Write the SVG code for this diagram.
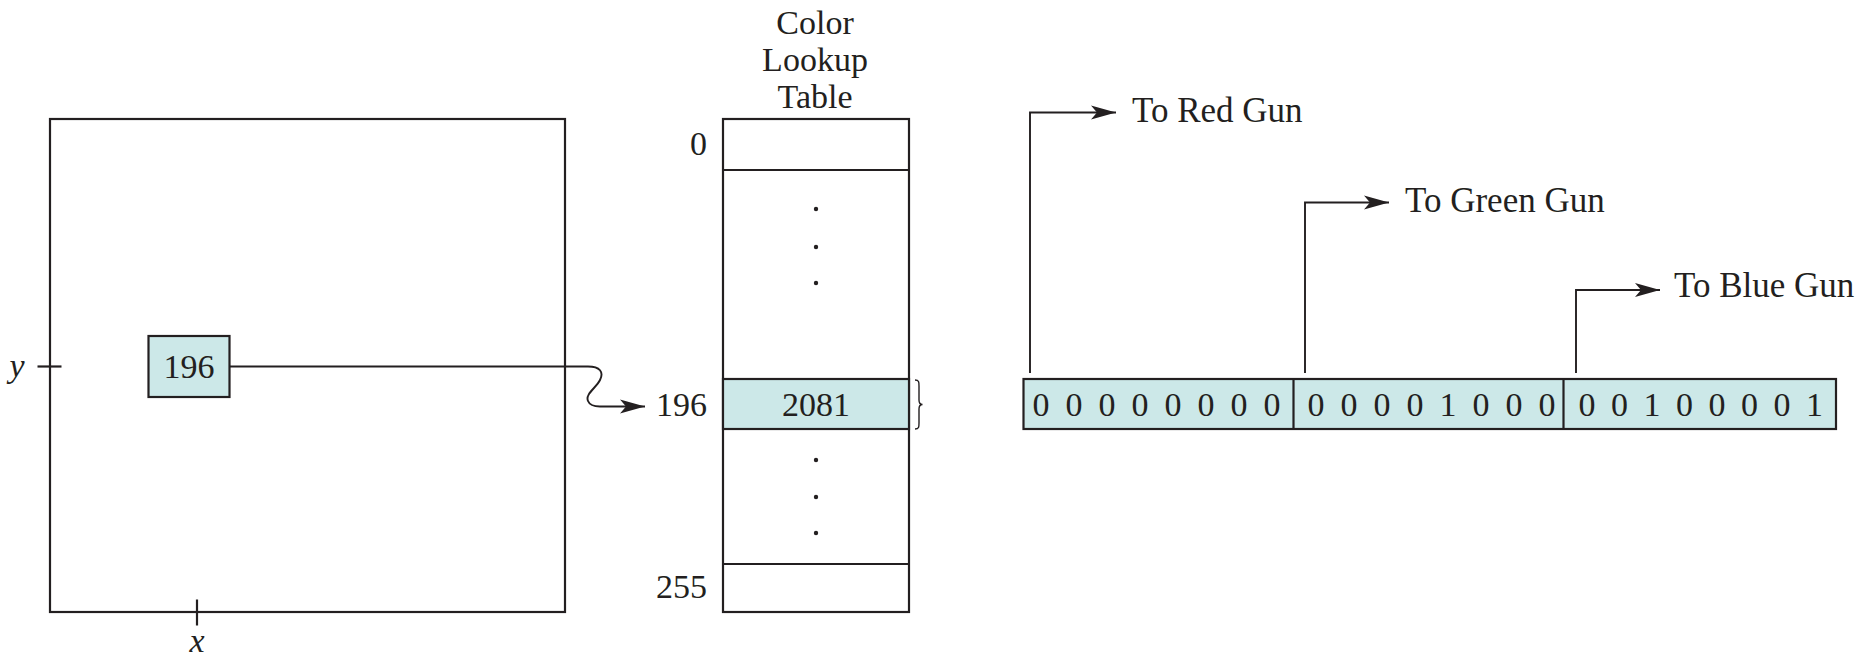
<svg xmlns="http://www.w3.org/2000/svg" width="1862" height="656" viewBox="0 0 1862 656">
<style>
.ln{fill:none;stroke:#231f20;stroke-width:2.2}
.cn{fill:none;stroke:#231f20;stroke-width:1.9}
.hl{fill:#cce8e8;stroke:#231f20;stroke-width:2.2}
.t{font-family:"Liberation Serif","Times New Roman",serif;font-size:34px;fill:#231f20}
.g{font-size:35px}
.it{font-style:italic}
.m{text-anchor:middle}
.e{text-anchor:end}
.dot{fill:#231f20}
</style>
<defs>
<marker id="ah" markerUnits="userSpaceOnUse" markerWidth="26" markerHeight="18" refX="25" refY="9" orient="auto">
<path d="M0,2 L25,9 L0,16 L6,9 z" fill="#231f20"/>
</marker>
</defs>
<rect width="1862" height="656" fill="#ffffff"/>

<g id="frame-buffer">
<rect class="ln" x="50" y="119" width="515" height="493"/>
<line class="ln" x1="37.5" y1="366.5" x2="61.5" y2="366.5"/>
<line class="ln" x1="197" y1="599.5" x2="197" y2="625.5"/>
<text class="t it m" x="17" y="377">y</text>
<text class="t it m" x="197" y="652">x</text>
</g>

<g id="pixel-196">
<rect class="hl" x="148.5" y="336" width="81" height="61"/>
<text class="t m" x="189" y="378">196</text>
</g>

<g id="color-lookup-table">
<text class="t m" x="815" y="34">Color</text>
<text class="t m" x="815" y="71">Lookup</text>
<text class="t m" x="815" y="108">Table</text>
<rect class="ln" x="723" y="119" width="186" height="493"/>
<line class="ln" x1="723" y1="170" x2="909" y2="170"/>
<rect class="hl" x="723" y="379" width="186" height="50"/>
<line class="ln" x1="723" y1="564" x2="909" y2="564"/>
<text class="t m" x="816" y="416">2081</text>
<circle class="dot" cx="816" cy="209" r="2.2"/>
<circle class="dot" cx="816" cy="247" r="2.2"/>
<circle class="dot" cx="816" cy="283" r="2.2"/>
<circle class="dot" cx="816" cy="460" r="2.2"/>
<circle class="dot" cx="816" cy="497" r="2.2"/>
<circle class="dot" cx="816" cy="533" r="2.2"/>
<text class="t e" x="707" y="155">0</text>
<text class="t e" x="707" y="416">196</text>
<text class="t e" x="707" y="598">255</text>
<path d="M915,380 C919,380 919,382 919,386 V400 C919,403 920,404.5 922.5,404.5 C920,404.5 919,406 919,409 V423 C919,427 919,429 915,429" fill="none" stroke="#231f20" stroke-width="1.4"/>
</g>

<g id="rgb-register">
<rect class="hl" x="1023.5" y="379" width="812.5" height="50"/>
<line class="ln" x1="1293.5" y1="379" x2="1293.5" y2="429"/>
<line class="ln" x1="1563.5" y1="379" x2="1563.5" y2="429"/>
<text class="t m" x="1041 1074 1107 1140 1173 1206 1239 1272" y="416">00000000</text>
<text class="t m" x="1316 1349 1382 1415 1448 1481 1514 1547" y="416">00001000</text>
<text class="t m" x="1587 1619.5 1652 1684.5 1717 1749.5 1782 1814.5" y="416">00100001</text>
</g>

<g id="gun-labels">
<text class="t g" x="1132" y="122">To Red Gun</text>
<text class="t g" x="1405" y="212">To Green Gun</text>
<text class="t g" x="1674" y="297">To Blue Gun</text>
</g>

<g id="connectors">
<path class="cn" d="M229.5,366.5 H588 C600,366.5 604,372 600,380 C596,388 585,394 588,401 C590,406 595,406.5 600,406.5 H645" marker-end="url(#ah)"/>
<path class="cn" d="M1030,373 V112.5 H1116" marker-end="url(#ah)"/>
<path class="cn" d="M1305,373 V202.5 H1389" marker-end="url(#ah)"/>
<path class="cn" d="M1576,373 V290 H1660" marker-end="url(#ah)"/>
</g>
</svg>
